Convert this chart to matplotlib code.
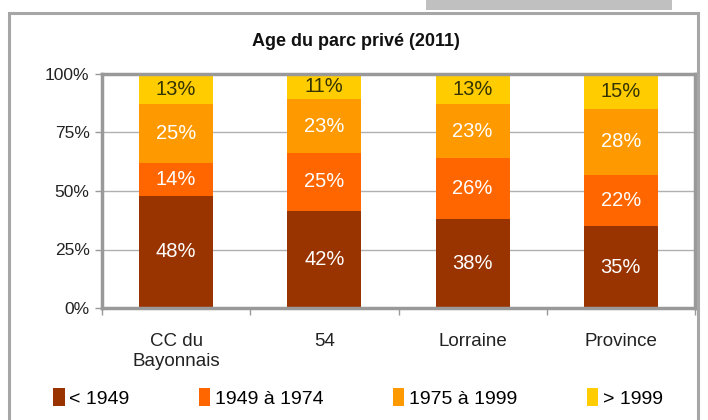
import matplotlib.pyplot as plt
from matplotlib.patches import Rectangle, Patch

plt.rcParams['font.family'] = ['Liberation Sans', 'DejaVu Sans']

categories = ['CC du\nBayonnais', '54', 'Lorraine', 'Province']
series = ['< 1949', '1949 à 1974', '1975 à 1999', '> 1999']
values = [
    [48, 42, 38, 35],   # < 1949
    [14, 25, 26, 22],   # 1949 à 1974
    [25, 23, 23, 28],   # 1975 à 1999
    [13, 11, 13, 15],   # > 1999
]
colors = ['#993300', '#FF6600', '#FF9900', '#FFCC00']
text_colors = ['white', 'white', 'white', '#333300']

fig = plt.figure(figsize=(7.08, 4.2), dpi=100)

# outer frame and grey tab at the top
fig.patches.append(Rectangle((9 / 708, -0.05), 689 / 708, (420 - 13) / 420 + 0.05,
                             transform=fig.transFigure, fill=False,
                             edgecolor='#a6a6a6', lw=2.2))
fig.patches.append(Rectangle((426 / 708, (420 - 10) / 420), 246 / 708, 10 / 420 + 0.01,
                             transform=fig.transFigure, facecolor='#c0c0c0',
                             edgecolor='none'))

ax = fig.add_axes([102 / 708, 1 - 308 / 420, (695 - 102) / 708, (308 - 74) / 420])

totals = [sum(v[i] for v in values) for i in range(len(categories))]
x = list(range(len(categories)))
bottom = [0.0] * len(categories)
for s, vals in enumerate(values):
    h = [vals[i] / totals[i] * 100 for i in x]
    ax.bar(x, h, 0.5, bottom=bottom, color=colors[s], zorder=2)
    for i in x:
        ax.text(i, bottom[i] + h[i] / 2, f'{vals[i]}%', ha='center', va='center',
                fontsize=14.5, color=text_colors[s], zorder=3)
    bottom = [bottom[i] + h[i] for i in x]

ax.set_xlim(-0.5, len(categories) - 0.5)
ax.set_ylim(0, 100)
ax.set_yticks([0, 25, 50, 75, 100])
ax.set_yticklabels(['0%', '25%', '50%', '75%', '100%'], fontsize=12.5, color='#222222')
ax.set_xticks(x)
ax.set_xticklabels(categories, fontsize=13.5, color='#222222', linespacing=1.25)
ax.set_xticks([i - 0.5 for i in range(len(categories) + 1)], minor=True)
ax.tick_params(axis='x', which='major', length=0, pad=18)
ax.tick_params(axis='x', which='minor', length=5, color='#999999', width=1)
ax.tick_params(axis='y', length=5, color='#999999', width=1, pad=4)
ax.yaxis.grid(True, color='#b0b0b0', lw=1, zorder=0)
for sp in ax.spines.values():
    sp.set_color('#999999')
    sp.set_linewidth(2.5)

fig.text(356 / 708, 1 - 42 / 420, 'Age du parc privé (2011)', ha='center', va='center',
         fontsize=13, fontweight='bold', color='#111111')

handles = [Patch(facecolor=c, edgecolor='none') for c in colors]
fig.legend(handles, series, loc='center', bbox_to_anchor=(358 / 708, 1 - 398 / 420),
           ncol=4, frameon=False, fontsize=14, handlelength=0.6, handleheight=1.0,
           handletextpad=0.25, columnspacing=3.55)

fig.savefig('out.png', dpi=100)
